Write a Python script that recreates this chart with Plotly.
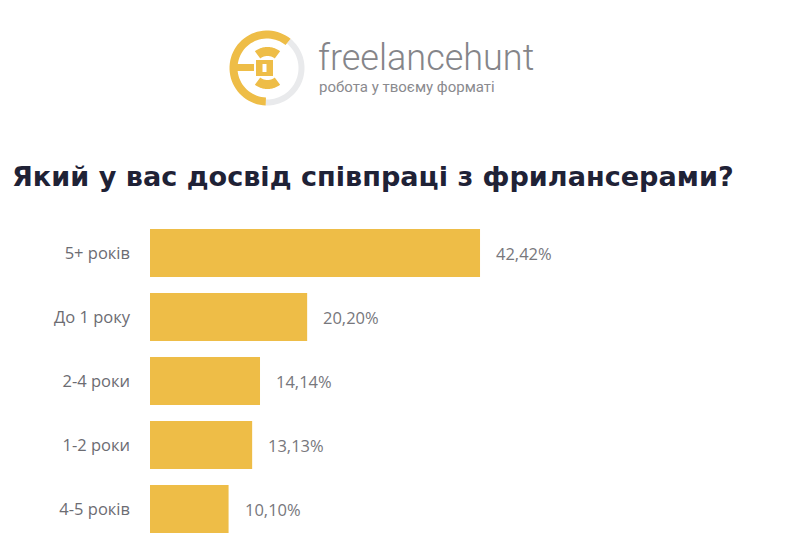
import math
import plotly.graph_objects as go

categories = ["5+ років", "До 1 року", "2-4 роки", "1-2 роки", "4-5 років"]
values = [42.42, 20.20, 14.14, 13.13, 10.10]
labels = [f"{v:.2f}".replace(".", ",") + "%" for v in values]

TITLE = "Який у вас досвід співпраці з фрилансерами?"
BRAND = "freelancehunt"
SLOGAN = "робота у твоєму форматі"

BAR = "#eebd47"
GRAY_TXT = "#6c6c72"
VAL_TXT = "#77777c"
FIG_W, FIG_H = 800, 557
ML, MR, MT, MB = 150, 150, 221, 16
PW, PH = FIG_W - ML - MR, FIG_H - MT - MB
XMAX = PW / 7.78


def px(x):
    return (x - ML) / PW


def py(y):
    return (MT + PH - y) / PH


def arc_path(cx, cy, r_out, r_in, a0, a1, n=48):
    pts = []
    for i in range(n + 1):
        a = math.radians(a0 + (a1 - a0) * i / n)
        pts.append((cx + r_out * math.cos(a), cy - r_out * math.sin(a)))
    for i in range(n + 1):
        a = math.radians(a1 + (a0 - a1) * i / n)
        pts.append((cx + r_in * math.cos(a), cy - r_in * math.sin(a)))
    return "M " + " L ".join(f"{px(x):.5f},{py(y):.5f}" for x, y in pts) + " Z"


def rect_path(x0, y0, x1, y1):
    pts = [(x0, y0), (x1, y0), (x1, y1), (x0, y1)]
    return "M " + " L ".join(f"{px(x):.5f},{py(y):.5f}" for x, y in pts) + " Z"


fig = go.Figure(
    go.Bar(
        x=values,
        y=categories,
        orientation="h",
        marker=dict(color=BAR, line=dict(width=0)),
        hoverinfo="skip",
    )
)

annotations = []
for v, c, t in zip(values, categories, labels):
    annotations.append(dict(
        x=v, y=c, xref="x", yref="y", text=t, showarrow=False,
        xanchor="left", yanchor="middle", xshift=14,
        font=dict(family="Open Sans", size=16.5, color=VAL_TXT),
    ))

annotations.append(dict(
    x=px(316), y=py(58), xref="paper", yref="paper", text=BRAND,
    showarrow=False, xanchor="left", yanchor="middle",
    font=dict(family="Roboto", size=36, color="#858589", weight=300),
))
annotations.append(dict(
    x=px(317), y=py(87), xref="paper", yref="paper", text=SLOGAN,
    showarrow=False, xanchor="left", yanchor="middle",
    font=dict(family="Roboto", size=15, color="#8a8a8e"),
))

# logo
cx, cy = 267, 68
shapes = [
    dict(type="path", path=arc_path(cx, cy, 37.5, 31.5, -92, 51), fillcolor="#e9eaec"),
    dict(type="path", path=arc_path(cx, cy, 37.5, 29.5, 51, 268), fillcolor=BAR),
    dict(type="path", path=arc_path(cx + 0.5, cy, 21, 12, 53, 127), fillcolor=BAR),
    dict(type="path", path=arc_path(cx + 0.5, cy, 21, 12, 233, 307), fillcolor=BAR),
    dict(type="path", path=rect_path(237, 64, 254, 71), fillcolor=BAR),
    dict(type="path", path=rect_path(256, 60, 273, 76), fillcolor=BAR),
    dict(type="path", path=rect_path(262.5, 64, 266.5, 72), fillcolor="white"),
]
for s in shapes:
    s.update(xref="paper", yref="paper", layer="above", line=dict(width=0))

fig.update_layout(
    width=FIG_W, height=FIG_H,
    margin=dict(l=ML, r=MR, t=MT, b=MB),
    paper_bgcolor="white", plot_bgcolor="white",
    bargap=0.25,
    showlegend=False,
    shapes=shapes,
    annotations=annotations,
    title=dict(
        text=TITLE, xref="container", yref="container",
        x=12 / FIG_W, xanchor="left", y=1 - 177 / FIG_H, yanchor="middle",
        font=dict(family="DejaVu Sans", size=27.1, color="#1f2236", weight="bold"),
    ),
    xaxis=dict(range=[0, XMAX], visible=False, fixedrange=True),
    yaxis=dict(
        categoryorder="array", categoryarray=categories, autorange="reversed",
        showgrid=False, showline=False, zeroline=False, ticks="",
        ticklabelstandoff=19,
        tickfont=dict(family="Open Sans", size=16.5, color=GRAY_TXT),
    ),
)

fig.write_html("out.html")
